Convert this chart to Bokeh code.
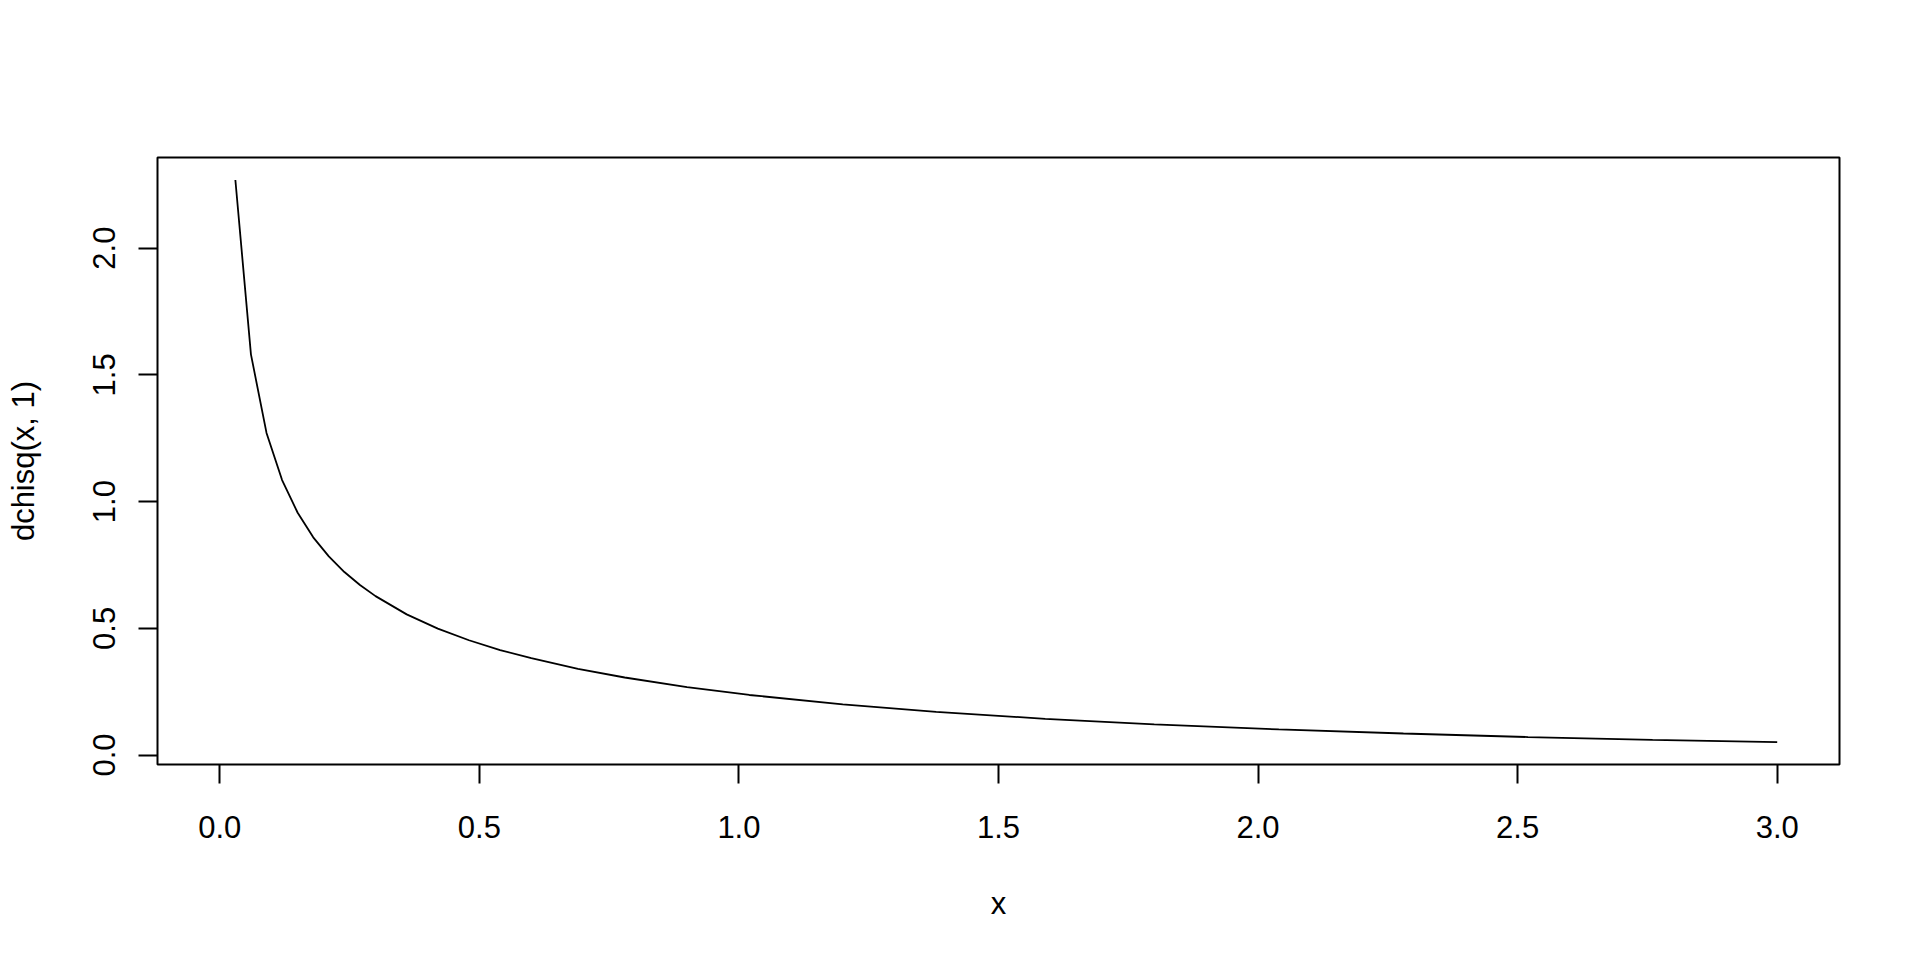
from bokeh.plotting import figure
from bokeh.models import Range1d, FixedTicker, PrintfTickFormatter
from bokeh.embed import file_html
from bokeh.resources import INLINE

x_vals = [0.03, 0.06, 0.09, 0.12, 0.15, 0.18, 0.21, 0.24, 0.27, 0.30,
          0.36, 0.42, 0.48, 0.54, 0.60, 0.69, 0.78, 0.90, 1.02, 1.20,
          1.38, 1.59, 1.80, 2.04, 2.28, 2.52, 2.76, 3.00]
y_vals = [2.269, 1.581, 1.271, 1.085, 0.956, 0.859, 0.784, 0.722, 0.671, 0.627,
          0.555, 0.499, 0.453, 0.414, 0.382, 0.340, 0.306, 0.268, 0.237, 0.200,
          0.170, 0.143, 0.121, 0.101, 0.085, 0.071, 0.060, 0.051]
x_ticks = [0.0, 0.5, 1.0, 1.5, 2.0, 2.5, 3.0]
y_ticks = [0.0, 0.5, 1.0, 1.5, 2.0]

FONT = "Liberation Sans"

p = figure(width=1904, height=944, output_backend="svg", toolbar_location=None,
           x_range=Range1d(-0.12, 3.12), y_range=Range1d(-0.0373, 2.3577),
           min_border_left=157, min_border_right=65, min_border_top=157,
           min_border_bottom=180)
p.background_fill_color = "white"
p.border_fill_color = "white"
p.grid.visible = False
p.outline_line_color = "black"
p.outline_line_width = 2
p.outline_line_alpha = 1.0

p.line(x_vals, y_vals, line_color="black", line_width=1.8)

for ax, ticks in ((p.xaxis[0], x_ticks), (p.yaxis[0], y_ticks)):
    ax.ticker = FixedTicker(ticks=ticks)
    ax.formatter = PrintfTickFormatter(format="%.1f")
    ax.axis_line_color = None
    ax.major_tick_line_color = "black"
    ax.major_tick_line_width = 2
    ax.major_tick_out = 19
    ax.major_tick_in = 0
    ax.minor_tick_line_color = None
    ax.major_label_text_font = FONT
    ax.major_label_text_font_size = "31px"
    ax.major_label_text_color = "black"
    ax.axis_label_text_font = FONT
    ax.axis_label_text_font_size = "31px"
    ax.axis_label_text_font_style = "normal"
    ax.axis_label_text_color = "black"

p.xaxis.axis_label = "x"
p.xaxis.major_label_standoff = 32
p.xaxis.axis_label_standoff = 45
p.yaxis.axis_label = "dchisq(x, 1)"
p.yaxis.major_label_orientation = "vertical"
p.yaxis.major_label_standoff = 23
p.yaxis.axis_label_standoff = 50

open("out.html", "w").write(file_html(p, INLINE))
